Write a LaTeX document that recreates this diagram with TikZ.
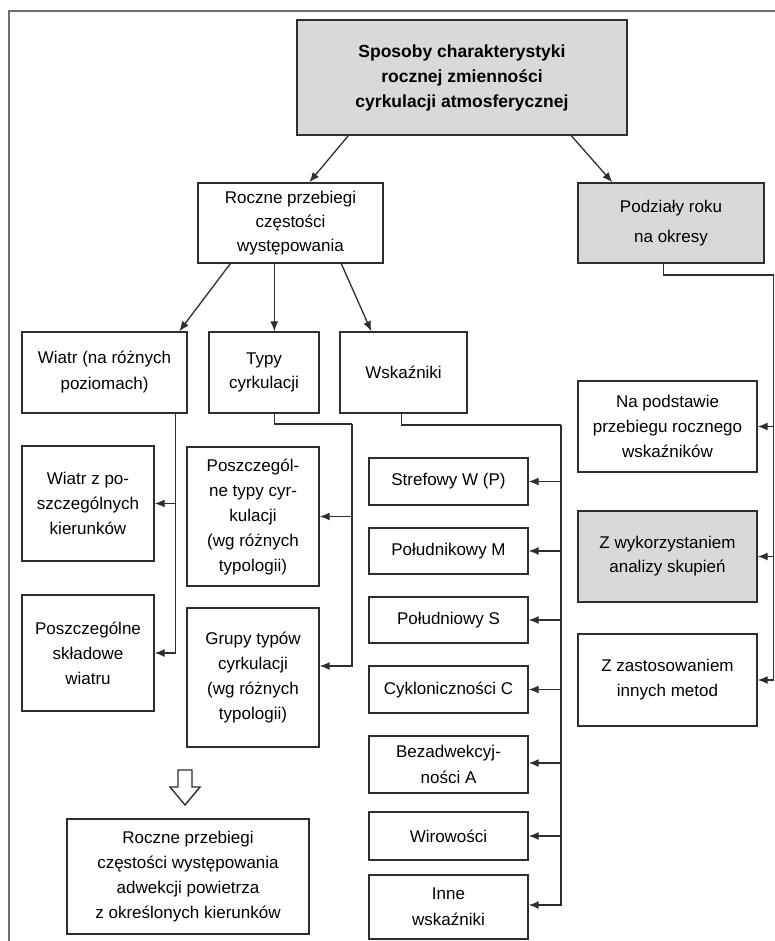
\documentclass[tikz,border=0pt]{standalone}
\usepackage{fontspec}
\setmainfont{Liberation Sans}
\usetikzlibrary{arrows.meta}
\definecolor{boxgray}{HTML}{D9D9D9}
\definecolor{linegray}{HTML}{2E2E2E}
\definecolor{framegray}{HTML}{6E6E6E}
\begin{document}
\begin{tikzpicture}[x=1pt,y=-1pt,
  box/.style={draw=linegray, line width=1.4pt, fill=white, align=center, inner sep=2pt,
              font=\fontsize{17}{25}\selectfont, text=black},
  gbox/.style={box, fill=boxgray},
  conn/.style={draw=linegray, line width=1.3pt},
  arr/.style={conn, -{Latex[length=10pt,width=8pt]}},
  frameline/.style={draw=framegray, line width=1.4pt},
  hollow/.style={draw=linegray, line width=1.4pt, fill=white}]
\useasboundingbox (0,0) rectangle (775,941);
% frame
\draw[frameline] (9,941) -- (9,11) -- (775,11);

% top level
\node[gbox, minimum width=330pt, minimum height=115pt, font=\fontsize{17.5}{25}\selectfont\bfseries] (top) at (462,77.5)
  {Sposoby charakterystyki\\rocznej zmienności\\cyrkulacji atmosferycznej};
\node[box, minimum width=185pt, minimum height=80pt, font=\fontsize{17}{24}\selectfont] (roczne) at (290.5,223)
  {Roczne przebiegi\\częstości\\występowania};
\node[gbox, minimum width=186pt, minimum height=80pt, font=\fontsize{17}{30}\selectfont] (podzialy) at (671,223)
  {Podziały roku\\na okresy};

% second level
\node[box, minimum width=165pt, minimum height=81pt, font=\fontsize{17}{26}\selectfont] (wiatr) at (104.5,372.5)
  {Wiatr (na różnych\\poziomach)};
\node[box, minimum width=110pt, minimum height=81pt, font=\fontsize{17}{24}\selectfont] (typy) at (264,372.5)
  {Typy\\cyrkulacji};
\node[box, minimum width=127pt, minimum height=81pt] (wsk) at (403.5,372.5) {Wskaźniki};

% wind column
\node[box, minimum width=132pt, minimum height=115pt] (wiatrz) at (88,503.5)
  {Wiatr z po-\\szczególnych\\kierunków};
\node[box, minimum width=132pt, minimum height=116pt] (skladowe) at (88,653)
  {Poszczególne\\składowe\\wiatru};

% types column
\node[box, minimum width=132pt, minimum height=139pt] (ptypy) at (253,516.5)
  {Poszczegól-\\ne typy cyr-\\kulacji\\(wg różnych\\typologii)};
\node[box, minimum width=132pt, minimum height=139pt] (grupy) at (253,677.5)
  {Grupy typów\\cyrkulacji\\(wg różnych\\typologii)};

% result
\node[box, minimum width=242pt, minimum height=115pt] (wynik) at (188,876.5)
  {Roczne przebiegi\\częstości występowania\\adwekcji powietrza\\z określonych kierunków};

% indices column
\node[box, minimum width=159pt, minimum height=47pt] (strefowy) at (448.5,481.5) {Strefowy W (P)};
\node[box, minimum width=159pt, minimum height=46pt] (poludnikowy) at (448.5,551) {Południkowy M};
\node[box, minimum width=159pt, minimum height=46pt] (poludniowy) at (448.5,620) {Południowy S};
\node[box, minimum width=159pt, minimum height=47pt] (cyklon) at (448.5,689.5) {Cykloniczności C};
\node[box, minimum width=159pt, minimum height=57pt, font=\fontsize{17}{26}\selectfont] (bezadw) at (448.5,764.5) {Bezadwekcyj-\\ności A};
\node[box, minimum width=159pt, minimum height=48pt] (wirow) at (448.5,836) {Wirowości};
\node[box, minimum width=159pt, minimum height=64pt, font=\fontsize{17}{26}\selectfont] (inne) at (448.5,907) {Inne\\wskaźniki};

% periods column
\node[box, minimum width=179pt, minimum height=91pt] (napodst) at (667.5,426.5)
  {Na podstawie\\przebiegu rocznego\\wskaźników};
\node[gbox, minimum width=179pt, minimum height=91pt, font=\fontsize{17}{24}\selectfont] (zwyk) at (667.5,556.5)
  {Z wykorzystaniem\\analizy skupień};
\node[box, minimum width=179pt, minimum height=92pt] (zzast) at (667.5,680)
  {Z zastosowaniem\\innych metod};

% connectors from top
\draw[arr] ([xshift=52pt]top.south west) -- ([xshift=112pt]roczne.north west);
\draw[arr] ([xshift=275pt]top.south west) -- ([xshift=35pt]podzialy.north west);

% connectors from roczne
\draw[arr] ([xshift=33pt]roczne.south west) -- ([xshift=158pt]wiatr.north west);
\draw[arr] ([xshift=77pt]roczne.south west) -- ([xshift=66pt]typy.north west);
\draw[arr] ([xshift=144pt]roczne.south west) -- ([xshift=32pt]wsk.north west);

% wind bus
\draw[arr] ([xshift=154pt]wiatr.south west) |- (wiatrz.east);
\draw[arr] ([xshift=154pt]wiatr.south west) |- (skladowe.east);

% types bus
\coordinate (tbus) at (352,424);
\draw[conn] ([xshift=66pt]typy.south west) |- (tbus);
\draw[arr] (tbus) |- (ptypy.east);
\draw[arr] (tbus) |- ([yshift=11.5pt]grupy.east);

% indices bus
\coordinate (wbus) at (561,425);
\draw[conn] ([xshift=62pt]wsk.south west) |- (wbus);
\draw[arr] (wbus) |- (strefowy.east);
\draw[arr] (wbus) |- (poludnikowy.east);
\draw[arr] (wbus) |- (poludniowy.east);
\draw[arr] (wbus) |- (cyklon.east);
\draw[arr] (wbus) |- ([yshift=1.5pt]bezadw.east);
\draw[arr] (wbus) |- (wirow.east);
\draw[arr] (wbus) |- ([yshift=2pt]inne.east);

% periods bus
\coordinate (pbus) at (773.5,275);
\draw[conn] ([xshift=86pt]podzialy.south west) |- (pbus);
\draw[arr] (pbus) |- (napodst.east);
\draw[arr] (pbus) |- (zwyk.east);
\draw[arr] (pbus) |- (zzast.east);

% hollow arrow towards the result
\draw[hollow] (178,770) -- (192,770) -- (192,787) -- (200,787) -- (185,805)
  -- (170,787) -- (178,787) -- cycle;
\end{tikzpicture}
\end{document}
